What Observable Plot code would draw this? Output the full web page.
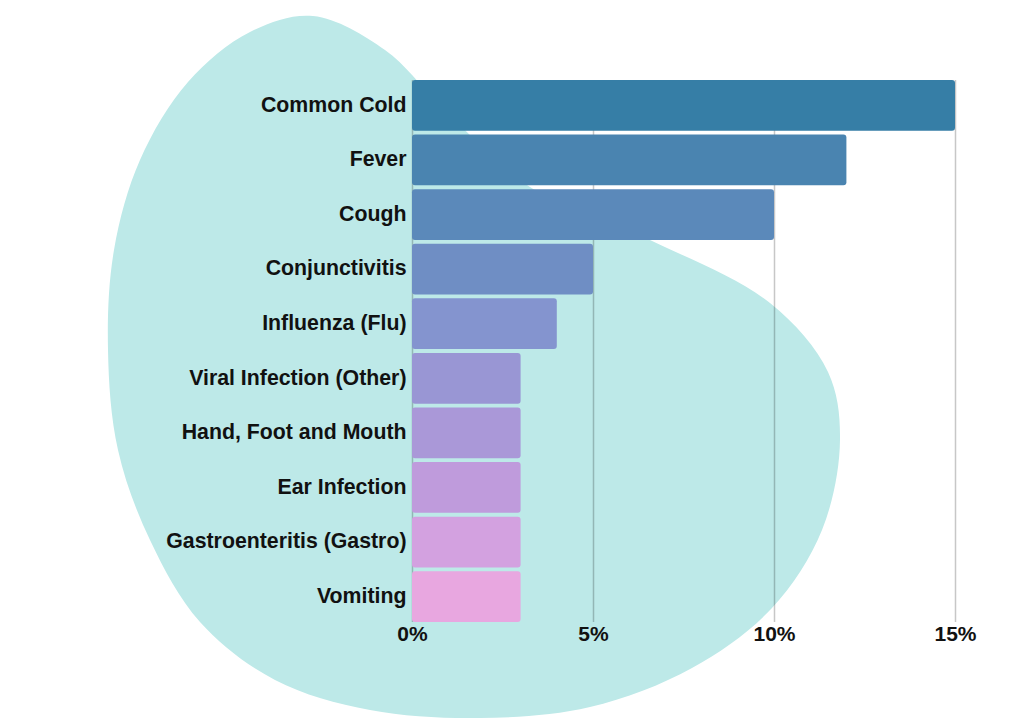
<!DOCTYPE html>
<html>
<head>
<meta charset="utf-8">
<script src="https://cdn.jsdelivr.net/npm/d3@7"></script>
<script src="https://cdn.jsdelivr.net/npm/@observablehq/plot@0.6"></script>
<style>
  html, body { margin: 0; padding: 0; background: #fff; }
  #chart { width: 1024px; height: 727px; position: relative; }
</style>
</head>
<body>
<div id="chart"></div>
<script>
const categories = ["Common Cold", "Fever", "Cough", "Conjunctivitis", "Influenza (Flu)", "Viral Infection (Other)", "Hand, Foot and Mouth", "Ear Infection", "Gastroenteritis (Gastro)", "Vomiting"];
const values = [15, 12, 10, 5, 4, 3, 3, 3, 3, 3];
const barColors = ["#367ea6", "#4a84b0", "#5b89ba", "#6f8ec4", "#8494cf", "#9996d4", "#aa98d8", "#bf9bdc", "#d3a1e0", "#e8a7e0"];
const xTicks = [0, 5, 10, 15];

// decorative background blob outline (pixel points)
const blob = [[313,16],[385,50],[440,105],[530,187],[650,240],[770,303],[828,372],[840,440],[822,530],[772,608],[692,668],[590,707],[480,718],[370,710],[275,680],[200,622],[150,540],[118,450],[108,350],[114,250],[140,160],[188,82],[250,32]];

const data = categories.map((c, i) => ({category: c, value: values[i], color: barColors[i]}));

const plot = Plot.plot({
  width: 1024,
  height: 727,
  marginLeft: 412,
  marginRight: 69,
  marginTop: 80,
  marginBottom: 105,
  style: {background: "transparent", fontFamily: "'Liberation Sans', Arial, sans-serif", fontSize: "21px", fontWeight: "bold", color: "#111"},
  x: {domain: [0, 15], label: null},
  y: {domain: categories, paddingInner: 0.07, paddingOuter: 0, round: false, label: null},
  marks: [
    Plot.ruleX(xTicks, {stroke: "#000", strokeOpacity: 0.22, strokeWidth: 1.5}),
    Plot.barX(data, {x: "value", y: "category", fill: "color", rx: 3}),
    Plot.axisY({tickSize: 0, tickPadding: 6, fontSize: 21.3, fontWeight: "bold", dy: -1}),
    Plot.axisX({ticks: xTicks, tickFormat: d => d + "%", tickSize: 0, tickPadding: 4, fontSize: 21, fontWeight: "bold"})
  ]
});

const svg = d3.select(plot);
svg.insert("path", ":first-child")
  .attr("d", d3.line().curve(d3.curveCatmullRomClosed.alpha(0.5))(blob))
  .attr("fill", "#bde9e8");

document.getElementById("chart").appendChild(plot);
</script>
</body>
</html>
